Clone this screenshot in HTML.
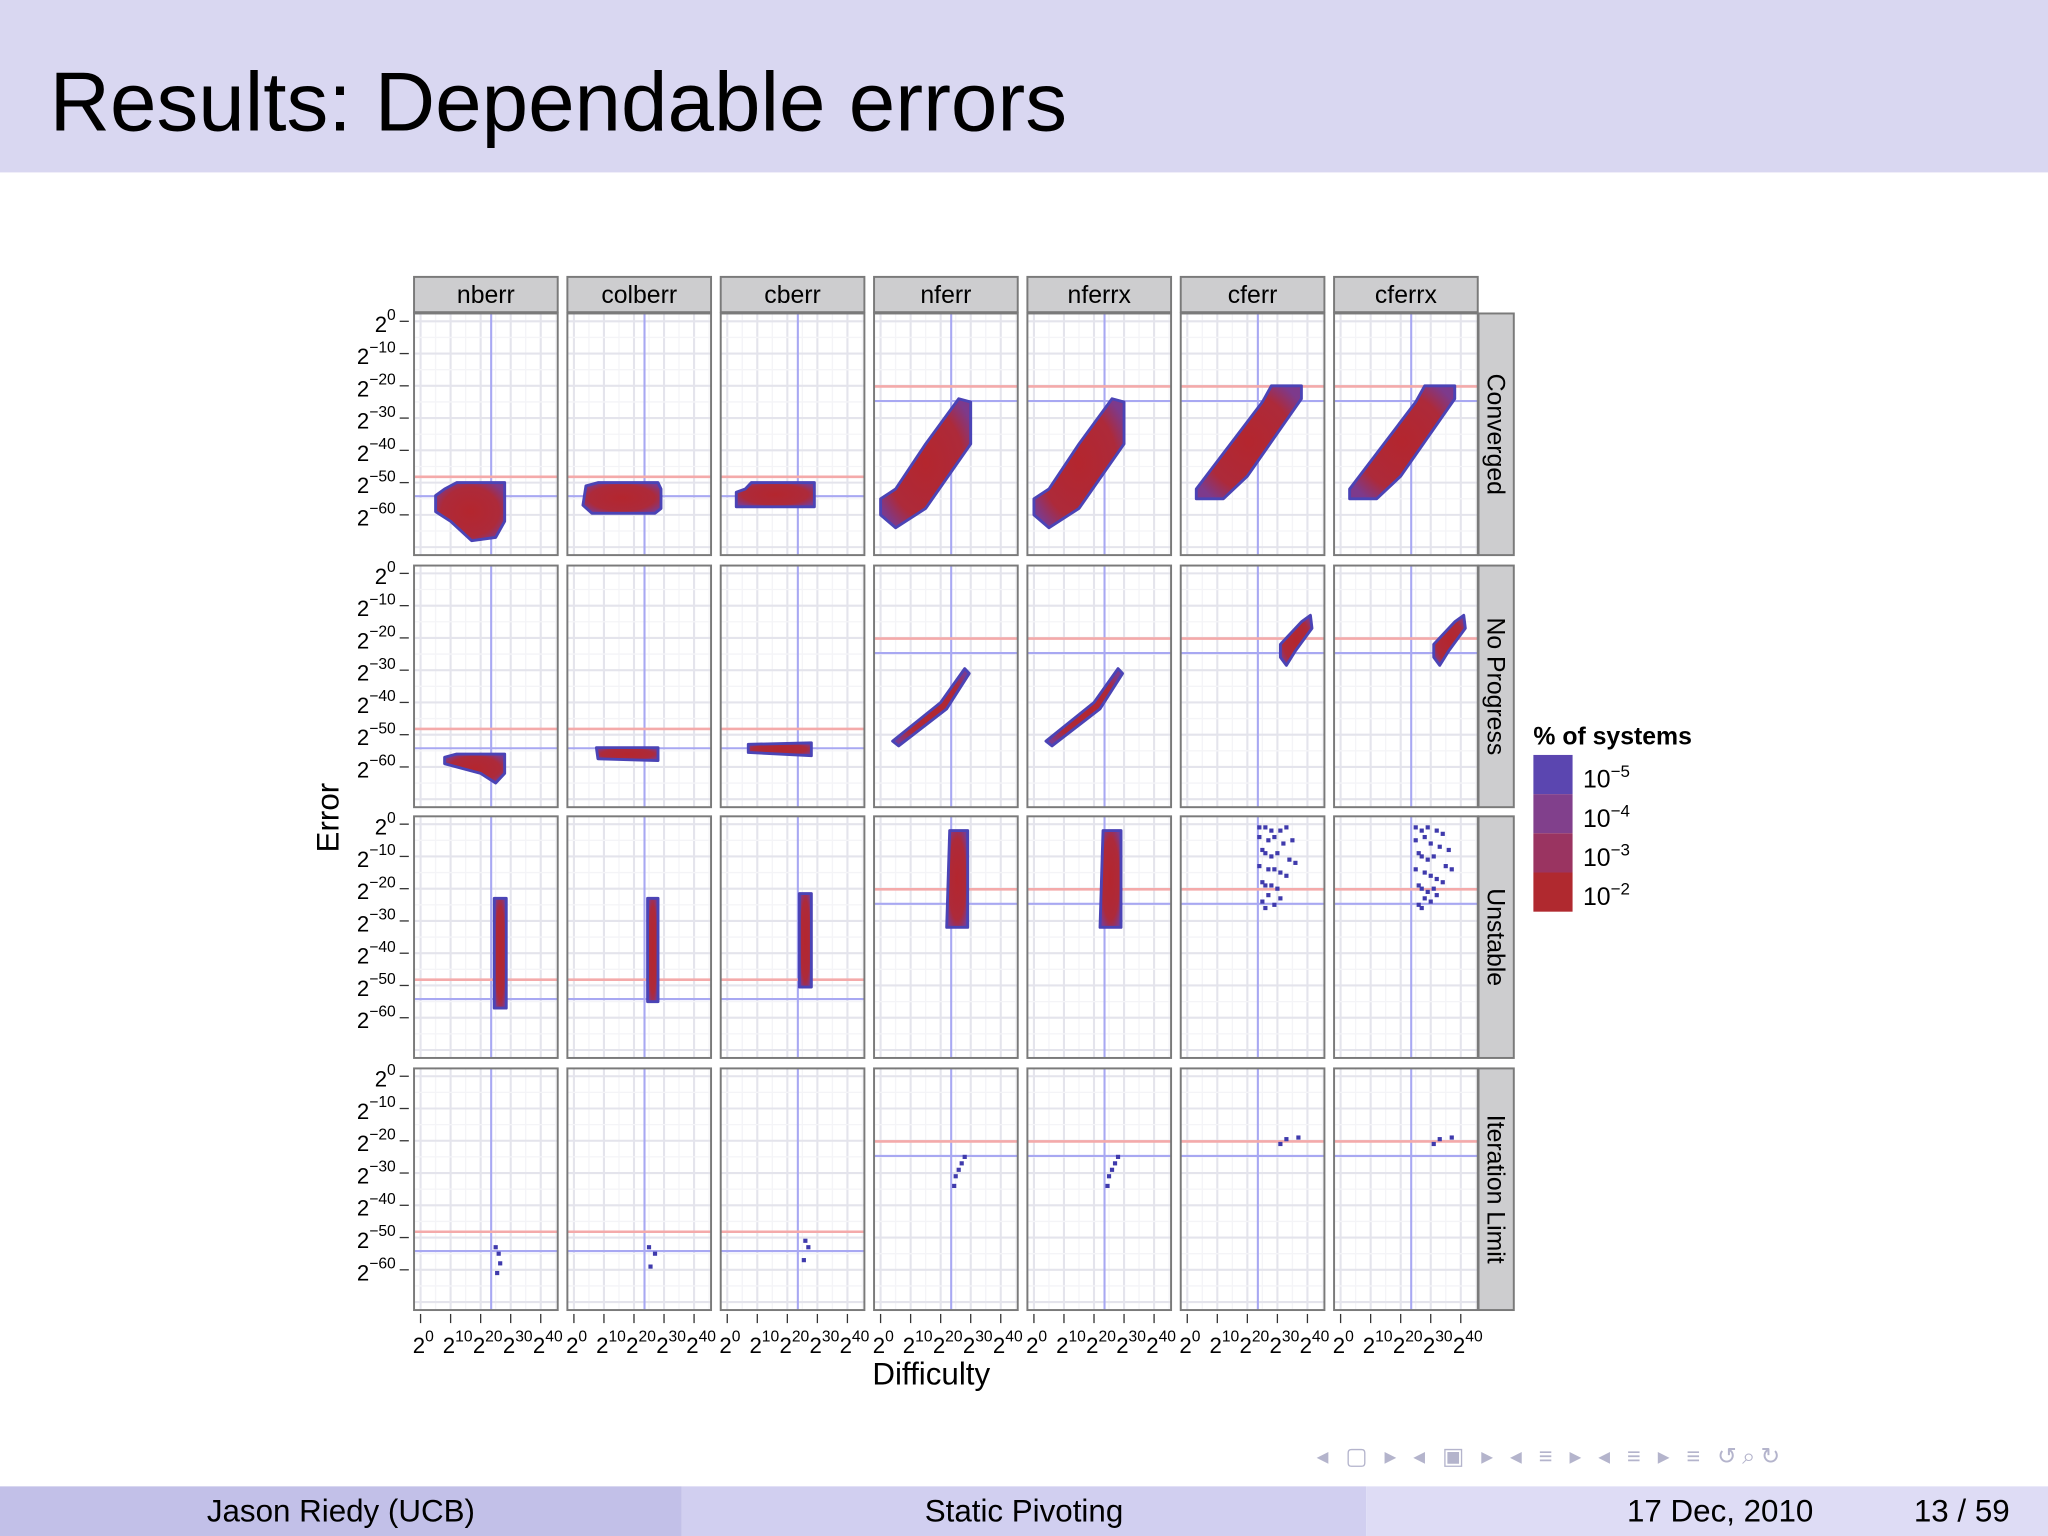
<!DOCTYPE html>
<html><head><meta charset="utf-8"><style>
html,body{margin:0;padding:0;background:#fff;}
svg{display:block;font-family:"Liberation Sans",sans-serif;}
</style></head><body>
<svg id="chart" width="2048" height="1536" viewBox="0 0 1568 1176" xmlns="http://www.w3.org/2000/svg">
<defs>
<radialGradient id="blobgrad" cx="50%" cy="50%" r="60%">
<stop offset="0%" stop-color="#b4262e"/><stop offset="70%" stop-color="#ad2a3a"/><stop offset="100%" stop-color="#7d3a8c"/>
</radialGradient>
</defs>
<rect x="0" y="0" width="1568" height="132" fill="#d9d7f1"/>
<text x="38" y="100" font-size="64" fill="#000">Results:  Dependable errors</text>
<g id="plot"></g>
<g>
<text x="1174" y="570" font-size="19" font-weight="bold">% of systems</text>
<rect x="1174" y="578" width="30" height="30" fill="#5b46b0"/>
<rect x="1174" y="608" width="30" height="30" fill="#81408c"/>
<rect x="1174" y="638" width="30" height="30" fill="#9a3461"/>
<rect x="1174" y="668" width="30" height="30" fill="#b0292f"/>
<text x="1212" y="603" font-size="19">10<tspan dy="-8" font-size="13">−5</tspan></text>
<text x="1212" y="633" font-size="19">10<tspan dy="-8" font-size="13">−4</tspan></text>
<text x="1212" y="663" font-size="19">10<tspan dy="-8" font-size="13">−3</tspan></text>
<text x="1212" y="693" font-size="19">10<tspan dy="-8" font-size="13">−2</tspan></text>
</g>
<text transform="translate(259,626) rotate(-90)" text-anchor="middle" font-size="24">Error</text>
<text x="713" y="1060" text-anchor="middle" font-size="24">Difficulty</text>
<text x="1008" y="1121" font-size="18" fill="#b4b4cc" letter-spacing="4">◂ ▢ ▸  ◂ ▣ ▸  ◂ ≡ ▸  ◂ ≡ ▸    ≡    ↺⌕↻</text>
<rect x="0" y="1138" width="522" height="38" fill="#c2c0e8"/>
<rect x="522" y="1138" width="524" height="38" fill="#d1cff0"/>
<rect x="1046" y="1138" width="522" height="38" fill="#dedcf5"/>
<text x="261" y="1165" text-anchor="middle" font-size="24">Jason Riedy  (UCB)</text>
<text x="784" y="1165" text-anchor="middle" font-size="24">Static Pivoting</text>
<text x="1317" y="1165" text-anchor="middle" font-size="24">17 Dec, 2010</text>
<text x="1502" y="1165" text-anchor="middle" font-size="24">13 / 59</text>
</svg>
<script>
const columns = ["nberr","colberr","cberr","nferr","nferrx","cferr","cferrx"];
const rows = ["Converged","No Progress","Unstable","Iteration Limit"];
const xTicks = [0,10,20,30,40];
const yTicks = [0,-10,-20,-30,-40,-50,-60];
const vLine = [23.5,23.5,23.5,23.5,23.5,23.5,23.5];
const redLine = [-48.2,-48.2,-48.2,-20.2,-20.2,-20.2,-20.2];
const blueLine = [-54.2,-54.2,-54.2,-24.7,-24.7,-24.7,-24.7];
const blobs = [
 [0,0,[[8,-52],[12,-50],[28,-50],[28,-62],[25,-67],[17,-68],[10,-62],[5,-59],[5,-54]]],
 [0,1,[[4,-51],[8,-50],[28,-50],[29,-52],[29,-58],[27,-59.5],[6,-59.5],[3,-57]]],
 [0,2,[[8,-50],[29,-50],[29,-57.5],[3,-57.5],[3,-53],[6,-52]]],
 [0,3,[[0,-55],[0,-60],[5,-64],[15,-58],[30,-38],[30,-25],[26,-24],[15,-38],[5,-52]]],
 [0,4,[[0,-55],[0,-60],[5,-64],[15,-58],[30,-38],[30,-25],[26,-24],[15,-38],[5,-52]]],
 [0,5,[[3,-55],[3,-52],[25,-25],[28,-20],[38,-20],[38,-24],[20,-48],[12,-55]]],
 [0,6,[[3,-55],[3,-52],[25,-25],[28,-20],[38,-20],[38,-24],[20,-48],[12,-55]]],
 [1,0,[[8,-57],[12,-56],[28,-56],[28,-62],[25,-65],[20,-62],[8,-59]]],
 [1,1,[[7.5,-54],[28,-54],[28,-58],[8,-57.5]]],
 [1,2,[[7,-53],[28,-52.5],[28,-56.5],[7,-55.5]]],
 [1,3,[[4,-52],[20,-40],[28,-29.5],[29.5,-31],[22,-42],[6,-53.5]]],
 [1,4,[[4,-52],[20,-40],[28,-29.5],[29.5,-31],[22,-42],[6,-53.5]]],
 [1,5,[[31,-22],[38,-15],[41,-13],[41.5,-17],[36,-24],[33,-28.5],[31,-26]]],
 [1,6,[[31,-22],[38,-15],[41,-13],[41.5,-17],[36,-24],[33,-28.5],[31,-26]]],
 [2,0,[[24.5,-23],[28.5,-23],[28.5,-57],[24.5,-57]]],
 [2,1,[[24.5,-23],[28,-23],[28,-55],[24.5,-55]]],
 [2,2,[[24,-21.5],[28,-21.5],[28,-50.5],[24,-50.5]]],
 [2,3,[[23,-2],[29,-2],[29,-32],[22,-32]]],
 [2,4,[[23,-2],[29,-2],[29,-32],[22,-32]]]
];
const cellRow = [2,2,2,2,2,2,2,2,2,2,2,2,2,2,2,2,2,2,2,2,2,2,2,2,2,2,2,2,2,2, 2,2,2,2,2,2,2,2,2,2,2,2,2,2,2,2,2,2,2,2,2,2,2,2,2,2,2,2,2,2, 3,3,3,3, 3,3,3, 3,3,3, 3,3,3,3,3, 3,3,3,3,3, 3,3,3, 3,3,3];
const cellCol = [5,5,5,5,5,5,5,5,5,5,5,5,5,5,5,5,5,5,5,5,5,5,5,5,5,5,5,5,5,5, 6,6,6,6,6,6,6,6,6,6,6,6,6,6,6,6,6,6,6,6,6,6,6,6,6,6,6,6,6,6, 0,0,0,0, 1,1,1, 2,2,2, 3,3,3,3,3, 4,4,4,4,4, 5,5,5, 6,6,6];
const cellX = [24,26,28,31,33,24,27,29,32,35,25,26,28,30,34,36,24,27,29,31,33,25,26,28,30,27,25,26,29,31,
               25,27,29,32,34,25,28,30,33,36,26,27,29,31,35,37,25,28,30,32,34,26,27,29,31,28,26,27,30,32,
               25,26,26.5,25.5, 25,27,25.5, 26,27,25.5, 28,27,26,25,24.5, 28,27,26,25,24.5, 31,33,37, 31,33,37];
const cellY = [-1,-1,-2,-2,-1,-4,-5,-4,-6,-5,-8,-9,-10,-9,-11,-12,-13,-14,-14,-15,-16,-18,-19,-19,-20,-22,-24,-26,-25,-23,
               -1,-2,-1,-2,-3,-5,-4,-6,-7,-8,-9,-10,-11,-10,-13,-14,-14,-15,-16,-17,-18,-19,-20,-21,-20,-23,-25,-26,-24,-22,
               -53,-55,-58,-61, -53,-55,-59, -51,-53,-57, -25,-27,-29,-31,-34, -25,-27,-29,-31,-34, -21,-19.5,-19, -21,-19.5,-19];

const NS="http://www.w3.org/2000/svg";
const plot=document.getElementById('plot');
const rowTop=[240,433,625,818], panelH=185, panelW=110, colLeft=317, colPitch=117.4;
function px(c,e){return colLeft+c*colPitch+5+e*2.3;}
function py(r,e){return rowTop[r]+6-e*2.47;}
function mk(tag,attrs,parent){const el=document.createElementNS(NS,tag);for(const k in attrs)el.setAttribute(k,attrs[k]);(parent||plot).appendChild(el);return el;}

columns.forEach((name,c)=>{
  const x0=colLeft+c*colPitch;
  const s=mk('rect',{x:x0,y:212,width:panelW,height:27,fill:'#cdcdcf',stroke:'#7a7a7a','stroke-width':1.5});
  
  
  const t=mk('text',{x:x0+panelW/2,y:232,'text-anchor':'middle','font-size':19});
  t.textContent=name;
  
  
});
rows.forEach((name,r)=>{
  const s=mk('rect',{x:1132,y:rowTop[r],width:27,height:panelH,fill:'#cdcdcf',stroke:'#7a7a7a','stroke-width':1.5});
  
  
  const t=mk('text',{transform:`translate(1139,${rowTop[r]+panelH/2}) rotate(90)`,'text-anchor':'middle','font-size':19});
  t.textContent=name;
  
  
  yTicks.forEach(v=>{
    const y=py(r,v);
    const tk=mk('line',{x1:306,x2:313,y1:y,y2:y,stroke:'#333','stroke-width':1});
    
    
    const lb=mk('text',{x:303,y:y+8,'text-anchor':'end','font-size':17});
    lb.innerHTML='2<tspan dy="-9" font-size="12">'+(v===0?'0':'−'+(-v))+'</tspan>';
    
    
  });
  columns.forEach((cn,c)=>{
    const x0=colLeft+c*colPitch, y0=rowTop[r];
    const g=mk('g',{});
    
    
    mk('rect',{x:x0,y:y0,width:panelW,height:panelH,fill:'#fff'},g);
    for(let e=-5;e<=45;e+=5){const x=px(c,e);if(x<x0||x>x0+panelW)continue;mk('line',{x1:x,x2:x,y1:y0,y2:y0+panelH,stroke:e%10===0?'#e4e4ec':'#f4f4f7','stroke-width':e%10===0?1.6:1},g);}
    for(let e=0;e>=-70;e-=5){const y=py(r,e);if(y<y0||y>y0+panelH)continue;mk('line',{x1:x0,x2:x0+panelW,y1:y,y2:y,stroke:e%10===0?'#e4e4ec':'#f4f4f7','stroke-width':e%10===0?1.6:1},g);}
    mk('line',{x1:px(c,vLine[c]),x2:px(c,vLine[c]),y1:y0,y2:y0+panelH,stroke:'#a8a8f2','stroke-width':1.6},g);
    mk('line',{x1:x0,x2:x0+panelW,y1:py(r,redLine[c]),y2:py(r,redLine[c]),stroke:'#f4aaaa','stroke-width':2},g);
    mk('line',{x1:x0,x2:x0+panelW,y1:py(r,blueLine[c]),y2:py(r,blueLine[c]),stroke:'#a8a8f2','stroke-width':1.6},g);
  });
});
blobs.forEach(b=>{
  const [r,c,poly]=b;
  const pts=poly.map(p=>px(c,p[0]).toFixed(1)+','+py(r,p[1]).toFixed(1)).join(' ');
  const p=mk('polygon',{points:pts,fill:'url(#blobgrad)',stroke:'#4b44b6','stroke-width':2.2,'stroke-linejoin':'round'});
  
  
});
cellX.forEach((xv,i)=>{
  const r=cellRow[i], c=cellCol[i];
  const q=mk('rect',{x:px(c,xv)-1.6,y:py(r,cellY[i])-1.6,width:3.2,height:3.2,fill:'#3f3aac'});
  
  
});
rows.forEach((rn,r)=>columns.forEach((cn,c)=>{
  const b=mk('rect',{x:colLeft+c*colPitch,y:rowTop[r],width:panelW,height:panelH,fill:'none',stroke:'#7a7a7a','stroke-width':1.5});
  
  
}));
columns.forEach((cn,c)=>{
  xTicks.forEach((v,j)=>{
    const x=px(c,v);
    const tk=mk('line',{x1:x,x2:x,y1:1006,y2:1013,stroke:'#333','stroke-width':1});
    
    
    const lb=mk('text',{x:x-6,y:1036,'font-size':17});
    lb.innerHTML='2<tspan dy="-9" font-size="12">'+v+'</tspan>';
    
    
  });
});
</script>
</body></html>
